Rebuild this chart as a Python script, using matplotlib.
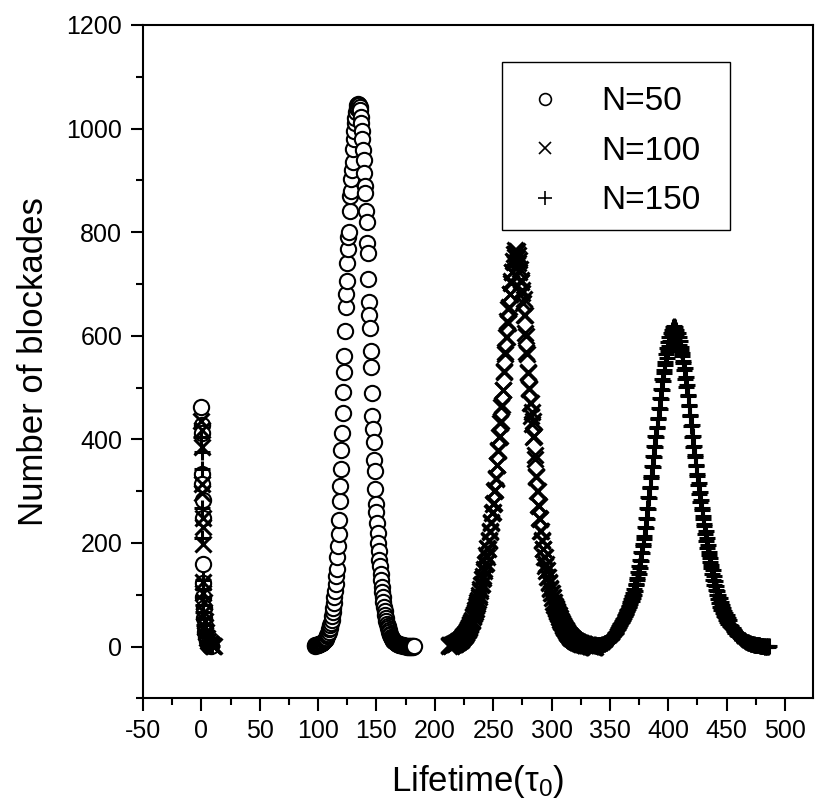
import matplotlib.pyplot as plt
from matplotlib.patches import Rectangle
from matplotlib.ticker import MultipleLocator

# contagens perto de tempo zero (coluna estreita)
tempoCurto50 = [0, 0.2, 0.4, 0.6, 0.8, 1.0, 1.2, 1.4, 1.6, 1.8, 2.0, 2.5, 3.0, 3.5, 4.0, 5.0, 6.0, 7.0, 8.0]
contagemCurta50 = [462, 428, 412, 334, 314, 282, 249, 160, 122, 96, 74, 55, 40, 28, 18, 10, 5, 2, 1]

tempoCurto100 = [0, 0.2, 0.4, 0.6, 0.8, 1.0, 1.2, 1.4, 1.6, 1.8, 2.0, 2.5, 3.0, 3.5, 4.0, 5.0, 6.0, 7.0, 8.0, 9.0, 10.0, 11.0]
contagemCurta100 = [436, 418, 385, 314, 297, 249, 230, 198, 125, 104, 86, 66, 50, 38, 28, 17, 10, 6, 4, 2, 1, 1]

tempoCurto150 = [0, 0.2, 0.4, 0.6, 0.8, 1.0, 1.2, 1.4, 1.6, 1.8, 2.0, 2.5, 3.0, 3.5, 4.0, 5.0, 6.0, 7.0, 8.0, 9.0]
contagemCurta150 = [405, 375, 343, 268, 210, 128, 112, 96, 80, 66, 55, 42, 32, 24, 18, 11, 7, 4, 2, 1]

# picos principais, lidos com passo de 0.5 no tempo
passo = 0.5

inicioPico50 = 97.0
pico50 = [
    2, 1, 2, 3, 3, 2, 3, 4, 4, 5,
    5, 6, 6, 7, 8, 9, 10, 12, 13, 15,
    17, 20, 22, 25, 28, 33, 36, 41, 46, 52,
    58, 67, 75, 84, 95, 108, 120, 136, 150, 172,
    195, 218, 245, 280, 310, 342, 380, 412, 450, 492,
    530, 560, 610, 655, 680, 705, 740, 768, 790, 800,
    840, 870, 880, 902, 920, 935, 960, 980, 995, 1010,
    1020, 1032, 1040, 1046, 1048, 1038, 1045, 1042, 1035, 1022,
    1010, 996, 980, 958, 940, 915, 890, 875, 840, 820,
    780, 760, 710, 665, 640, 615, 570, 540, 490, 445,
    420, 395, 360, 338, 305, 275, 260, 238, 220, 200,
    185, 168, 155, 140, 128, 115, 105, 95, 85, 76,
    68, 61, 55, 49, 44, 39, 35, 31, 28, 25,
    22, 19, 17, 15, 13, 11, 10, 9, 8, 7,
    6, 6, 5, 4, 4, 3, 3, 3, 2, 2,
    2, 2, 1, 1, 1, 1, 1, 1, 0, 1,
    0, 1, 1, 0, 0, 1, 1, 0, 1, 0, 1]

inicioPico100 = 212.0
pico100 = [
    1, 2, 2, 1, 2, 3, 3, 4, 4, 5,
    5, 6, 6, 7, 8, 9, 10, 10, 11, 13,
    13, 14, 16, 17, 18, 20, 21, 23, 24, 26,
    27, 30, 32, 34, 36, 38, 42, 44, 47, 50,
    52, 57, 59, 62, 67, 70, 73, 78, 82, 86,
    90, 100, 96, 108, 111, 118, 120, 130, 133, 136,
    150, 146, 160, 162, 176, 172, 190, 188, 206, 204,
    222, 224, 238, 240, 258, 260, 276, 278, 300, 302,
    324, 326, 350, 350, 380, 378, 405, 406, 432, 436,
    462, 466, 495, 496, 530, 532, 565, 568, 598, 598,
    628, 625, 652, 656, 680, 680, 702, 705, 724, 724,
    744, 742, 758, 752, 766, 760, 764, 750, 756, 740,
    746, 724, 728, 704, 708, 682, 688, 664, 670, 640,
    640, 605, 600, 568, 565, 530, 528, 500, 498, 470,
    470, 446, 452, 430, 436, 405, 406, 370, 362, 330,
    328, 300, 300, 274, 272, 248, 246, 224, 224, 204,
    206, 188, 188, 172, 173, 156, 160, 145, 147, 134,
    135, 123, 124, 112, 113, 103, 104, 94, 96, 86,
    85, 81, 78, 75, 72, 69, 66, 63, 60, 57,
    55, 52, 50, 47, 45, 42, 40, 38, 36, 34,
    32, 30, 28, 26, 25, 23, 22, 20, 19, 18,
    17, 16, 15, 14, 13, 12, 11, 10, 10, 9,
    9, 8, 8, 7, 7, 6, 6, 5, 5, 5,
    4, 4, 4, 3, 3, 3, 3, 2, 2, 2,
    2, 1, 1, 1, 1, 1, 1, 0, 0, 0,
    0]

inicioPico150 = 338.0
pico150 = [
    1, 1, 1, 2, 2, 2, 2, 3, 3, 3,
    3, 4, 4, 5, 5, 6, 6, 7, 7, 8,
    9, 10, 11, 12, 13, 14, 15, 17, 18, 20,
    21, 23, 24, 26, 27, 29, 31, 33, 35, 37,
    39, 41, 43, 45, 47, 49, 51, 53, 55, 58,
    60, 63, 65, 68, 70, 73, 76, 79, 82, 85,
    92, 88, 98, 94, 104, 100, 112, 108, 121, 118,
    132, 128, 143, 140, 155, 152, 168, 165, 182, 180,
    198, 194, 214, 208, 231, 229, 249, 247, 268, 266,
    288, 286, 308, 306, 330, 326, 348, 346, 368, 366,
    388, 386, 406, 404, 424, 422, 442, 440, 461, 459,
    480, 478, 498, 496, 516, 512, 533, 529, 549, 544,
    564, 558, 576, 570, 588, 581, 598, 590, 606, 597,
    612, 602, 616, 606, 618, 605, 616, 602, 612, 597,
    606, 590, 598, 582, 590, 572, 578, 560, 566, 547,
    552, 533, 537, 517, 521, 501, 504, 483, 486, 465,
    467, 445, 447, 425, 427, 405, 407, 386, 388, 366,
    369, 348, 351, 330, 333, 312, 316, 295, 299, 279,
    283, 263, 267, 247, 252, 232, 237, 218, 223, 204,
    209, 190, 196, 177, 183, 164, 170, 152, 158, 140,
    147, 129, 136, 119, 126, 109, 117, 100, 108, 92,
    100, 84, 93, 77, 86, 71, 80, 65, 74, 59,
    69, 57, 64, 52, 60, 48, 56, 44, 52, 40,
    42, 40, 38, 36, 35, 33, 32, 30, 29, 27,
    26, 24, 23, 22, 21, 20, 19, 18, 17, 16,
    15, 14, 13, 12, 12, 11, 10, 9, 9, 8,
    8, 7, 7, 6, 6, 5, 5, 4, 4, 4,
    4, 3, 3, 3, 3, 2, 2, 2, 2, 2,
    2, 1, 1, 1, 1, 1, 1, 1, 1, 0,
    0, 1, 1, 0, 0, 1, 1]

rotulos = ["N=50", "N=100", "N=150"]


def eixoTempo(inicio, valores):
    '''Tempos do pico a partir do inicio e do passo'''
    return [inicio + passo * i for i in range(len(valores))]


def gerarGrafico():
    plt.rcParams['font.family'] = ['Liberation Sans', 'DejaVu Sans']
    plt.rcParams['mathtext.fontset'] = 'custom'
    plt.rcParams['mathtext.rm'] = 'Liberation Sans'
    plt.rcParams['mathtext.it'] = 'Liberation Sans:italic'
    plt.rcParams['axes.unicode_minus'] = False

    fig = plt.figure(figsize=(8.15, 8.06), dpi=100)
    ax = fig.add_axes([0.1755, 0.1336, 0.8221, 0.8354])

    x50 = tempoCurto50 + eixoTempo(inicioPico50, pico50)
    y50 = contagemCurta50 + pico50
    x100 = tempoCurto100 + eixoTempo(inicioPico100, pico100)
    y100 = contagemCurta100 + pico100
    x150 = tempoCurto150 + eixoTempo(inicioPico150, pico150)
    y150 = contagemCurta150 + pico150

    ax.plot(x50, y50, linestyle='none', marker='o', markersize=11,
            markerfacecolor='white', markeredgecolor='black', markeredgewidth=1.5,
            label=rotulos[0])
    ax.plot(x100, y100, linestyle='none', marker='x', markersize=12,
            color='black', markeredgewidth=2.2, label=rotulos[1])
    ax.plot(x150, y150, linestyle='none', marker='+', markersize=11,
            color='black', markeredgewidth=2.2, label=rotulos[2])

    ax.set_xlim(-50, 524)
    ax.set_ylim(-100, 1200)
    ax.xaxis.set_major_locator(MultipleLocator(50))
    ax.xaxis.set_minor_locator(MultipleLocator(25))
    ax.yaxis.set_major_locator(MultipleLocator(200))
    ax.yaxis.set_minor_locator(MultipleLocator(100))
    ax.tick_params(which='both', direction='out', width=1.5, top=False, right=False)
    ax.tick_params(which='major', length=9, labelsize=18, pad=6)
    ax.tick_params(which='minor', length=5)
    for lado in ax.spines.values():
        lado.set_linewidth(1.5)

    ax.set_xlabel("Lifetime(τ$_{\\mathrm{0}}$)", fontsize=25, labelpad=14)
    ax.set_ylabel("Number of blockades", fontsize=25, labelpad=12)

    # legenda sem moldura propria; a caixa vem de um retangulo
    leg = ax.legend(loc='upper left', bbox_to_anchor=(0.536, 0.9335), borderaxespad=0,
                    fontsize=24, frameon=False, handlelength=1.58, handletextpad=0.88,
                    labelspacing=0.555, borderpad=0.5)
    for marca, tamanho in zip(leg.legend_handles, [8.5, 8.5, 10]):
        marca.set_markersize(tamanho)
        marca.set_markeredgewidth(1.2)
    caixa = Rectangle((0.536, 0.6955), 0.34, 0.2495, transform=ax.transAxes,
                      fill=False, edgecolor='black', linewidth=1.0, zorder=5)
    ax.add_patch(caixa)

    plt.savefig('out.png', dpi=100)


if __name__ == "__main__":
    gerarGrafico()
